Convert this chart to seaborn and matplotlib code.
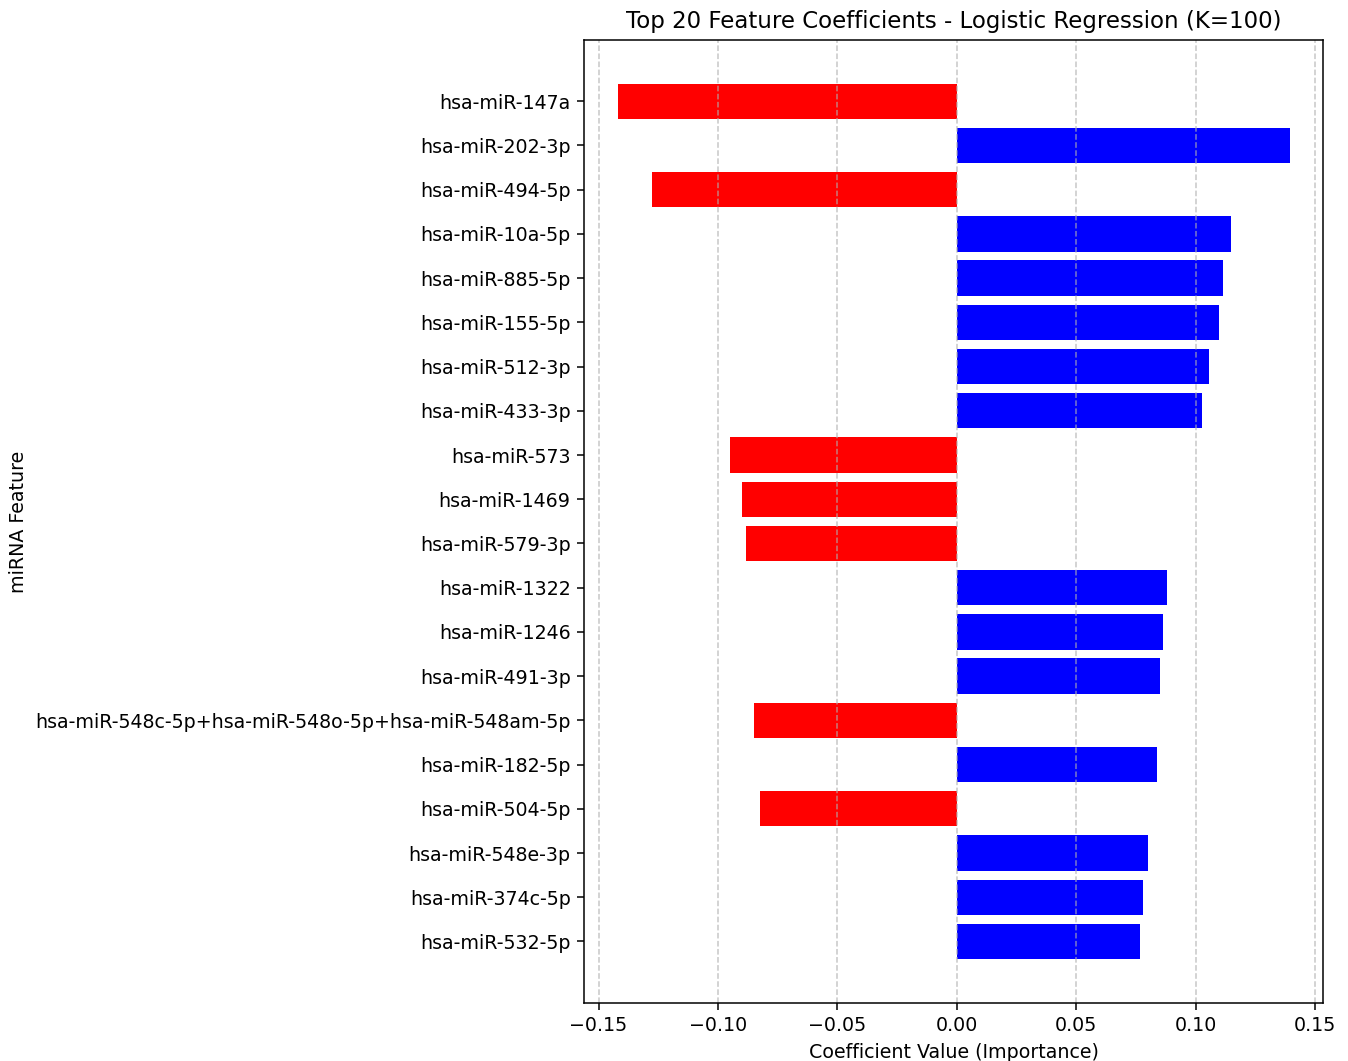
import matplotlib
matplotlib.use("Agg")
import matplotlib.pyplot as plt
import pandas as pd
import seaborn as sns

features = [
    "hsa-miR-147a", "hsa-miR-202-3p", "hsa-miR-494-5p", "hsa-miR-10a-5p",
    "hsa-miR-885-5p", "hsa-miR-155-5p", "hsa-miR-512-3p", "hsa-miR-433-3p",
    "hsa-miR-573", "hsa-miR-1469", "hsa-miR-579-3p", "hsa-miR-1322",
    "hsa-miR-1246", "hsa-miR-491-3p",
    "hsa-miR-548c-5p+hsa-miR-548o-5p+hsa-miR-548am-5p",
    "hsa-miR-182-5p", "hsa-miR-504-5p", "hsa-miR-548e-3p", "hsa-miR-374c-5p",
    "hsa-miR-532-5p",
]
coefficients = [
    -0.1420, 0.1394, -0.1277, 0.1146, 0.1113, 0.1097, 0.1058, 0.1028,
    -0.0950, -0.0898, -0.0881, 0.0880, 0.0862, 0.0852, -0.0848, 0.0840,
    -0.0824, 0.0799, 0.0778, 0.0766,
]

df = pd.DataFrame({"feature": features, "coef": coefficients})
df["sign"] = ["neg" if c < 0 else "pos" for c in df["coef"]]

fig, ax = plt.subplots(figsize=(9.84, 7.745), dpi=137)
fig.subplots_adjust(left=0.4332, right=0.9817, top=0.9625, bottom=0.0547)

sns.barplot(data=df, x="coef", y="feature", hue="sign", orient="h",
            palette={"neg": "red", "pos": "blue"}, dodge=False, legend=False,
            saturation=1, width=0.8, ax=ax)

n = len(features)
ax.set_ylim(n - 1 + 0.4 + 0.99, -0.4 - 0.99)
ax.set_xlim(-0.1561, 0.1535)
ax.set_xticks([-0.15, -0.10, -0.05, 0.00, 0.05, 0.10, 0.15])
ax.grid(axis="x", linestyle="--", alpha=0.7)
ax.set_axisbelow("line")

ax.set_title("Top 20 Feature Coefficients - Logistic Regression (K=100)", fontsize=12)
ax.set_xlabel("Coefficient Value (Importance)")
ax.set_ylabel("miRNA Feature")

fig.savefig("out.png", dpi=137)
